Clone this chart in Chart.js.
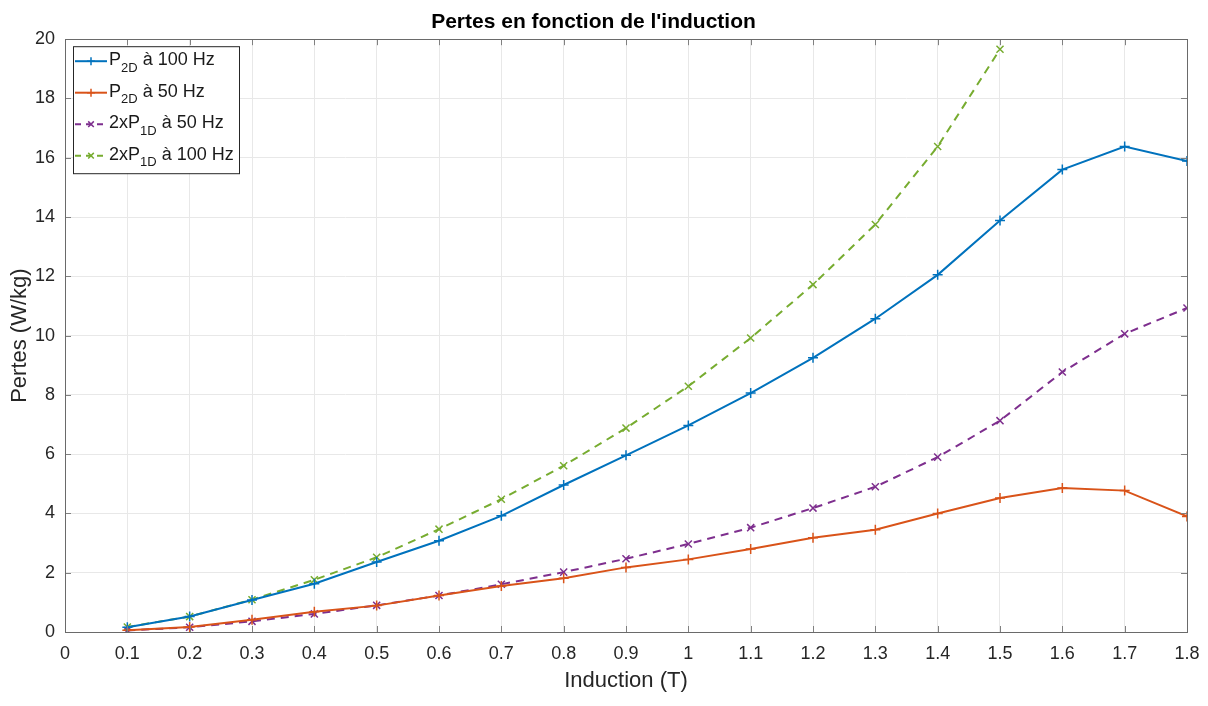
<!DOCTYPE html>
<html>
<head>
<meta charset="utf-8">
<script src="https://cdn.jsdelivr.net/npm/chart.js@4/dist/chart.umd.min.js"></script>
<style>
  html, body { margin: 0; padding: 0; background: #fff; }
  #wrap { width: 1208px; height: 706px; }
</style>
</head>
<body>
<div id="wrap"><canvas id="chart-pertes"></canvas></div>
<script>
// Données
const inductions = [0.1, 0.2, 0.3, 0.4, 0.5, 0.6, 0.7, 0.8, 0.9, 1.0, 1.1, 1.2, 1.3, 1.4, 1.5, 1.6, 1.7, 1.8];
const p2d100 = [0.16, 0.52, 1.08, 1.63, 2.36, 3.08, 3.92, 4.96, 5.96, 6.97, 8.06, 9.25, 10.57, 12.05, 13.88, 15.6, 16.38, 15.89];
const p2d50 = [0.06, 0.17, 0.41, 0.68, 0.89, 1.23, 1.55, 1.81, 2.18, 2.45, 2.8, 3.18, 3.45, 4.0, 4.52, 4.86, 4.77, 3.9];
const p1d50x2 = [0.05, 0.16, 0.36, 0.61, 0.9, 1.23, 1.61, 2.02, 2.47, 2.97, 3.52, 4.18, 4.9, 5.9, 7.13, 8.77, 10.06, 10.93];
const p1d100x2 = [0.17, 0.52, 1.09, 1.76, 2.52, 3.47, 4.48, 5.61, 6.88, 8.29, 9.92, 11.72, 13.75, 16.38, 19.66];

const seriesNames = [
    { base: 'P', sub: '2D', rest: ' à 100 Hz' },
    { base: 'P', sub: '2D', rest: ' à 50 Hz' },
    { base: '2xP', sub: '1D', rest: ' à 50 Hz' },
    { base: '2xP', sub: '1D', rest: ' à 100 Hz' }
];
const colors = ['#0072BD', '#D95319', '#7E2F8E', '#77AC30'];

const toPts = (vals) => vals.map((v, i) => ({ x: inductions[i], y: v }));

const FONT = '"Liberation Sans", Arial, sans-serif';

// cadre + graduations vers l'intérieur (style MATLAB)
const boxPlugin = {
    id: 'boxPlugin',
    afterDatasetsDraw(chart) {
        const { ctx, chartArea: a, scales } = chart;
        ctx.save();
        ctx.strokeStyle = '#808080';
        ctx.lineWidth = 1;
        ctx.beginPath();
        scales.x.ticks.forEach(t => {
            const px = Math.round(scales.x.getPixelForValue(t.value)) + 0.5;
            ctx.moveTo(px, a.bottom); ctx.lineTo(px, a.bottom - 6);
            ctx.moveTo(px, a.top); ctx.lineTo(px, a.top + 6);
        });
        scales.y.ticks.forEach(t => {
            const py = Math.round(scales.y.getPixelForValue(t.value)) + 0.5;
            ctx.moveTo(a.left, py); ctx.lineTo(a.left + 6, py);
            ctx.moveTo(a.right, py); ctx.lineTo(a.right - 6, py);
        });
        ctx.stroke();
        ctx.strokeStyle = '#6a6a6a';
        ctx.strokeRect(Math.round(a.left) + 0.5, Math.round(a.top) + 0.5,
            Math.round(a.right - a.left), Math.round(a.bottom - a.top));
        ctx.restore();
    }
};

// légende avec indices
const legendPlugin = {
    id: 'subLegend',
    afterDraw(chart) {
        const { ctx, chartArea: a } = chart;
        const x0 = a.left + 8, y0 = a.top + 7, w = 166, h = 127;
        ctx.save();
        ctx.fillStyle = '#fff';
        ctx.fillRect(x0, y0, w, h);
        ctx.strokeStyle = '#262626';
        ctx.lineWidth = 1;
        ctx.strokeRect(x0 + 0.5, y0 + 0.5, w, h);
        seriesNames.forEach((s, i) => {
            const ds = chart.data.datasets[i];
            const cy = y0 + 15 + i * 31.5;
            ctx.strokeStyle = colors[i];
            ctx.lineWidth = 2;
            ctx.setLineDash(ds.borderDash && ds.borderDash.length ? [6, 5] : []);
            ctx.beginPath();
            ctx.moveTo(x0 + 2, cy); ctx.lineTo(x0 + 34, cy);
            ctx.stroke();
            ctx.setLineDash([]);
            ctx.lineWidth = 1.5;
            const mx = x0 + 18, r = 4;
            ctx.beginPath();
            if (ds.pointStyle === 'cross') {
                ctx.moveTo(mx - r, cy); ctx.lineTo(mx + r, cy);
                ctx.moveTo(mx, cy - r); ctx.lineTo(mx, cy + r);
            } else {
                ctx.moveTo(mx - r * 0.7, cy - r * 0.7); ctx.lineTo(mx + r * 0.7, cy + r * 0.7);
                ctx.moveTo(mx - r * 0.7, cy + r * 0.7); ctx.lineTo(mx + r * 0.7, cy - r * 0.7);
            }
            ctx.stroke();
            ctx.fillStyle = '#1a1a1a';
            ctx.textBaseline = 'middle';
            let tx = x0 + 36;
            ctx.font = '18px ' + FONT;
            ctx.fillText(s.base, tx, cy - 1);
            tx += ctx.measureText(s.base).width;
            ctx.font = '13px ' + FONT;
            ctx.fillText(s.sub, tx, cy + 7);
            tx += ctx.measureText(s.sub).width;
            ctx.font = '18px ' + FONT;
            ctx.fillText(s.rest, tx, cy - 1);
        });
        ctx.restore();
    }
};

function makeDataset(label, vals, i, style, dashed) {
    return {
        label: label,
        data: toPts(vals),
        borderColor: colors[i],
        backgroundColor: colors[i],
        borderWidth: 2,
        borderDash: dashed ? [8, 6] : [],
        pointStyle: style,
        pointRadius: 5,
        pointBorderWidth: 1.5,
        pointHoverRadius: 5,
        tension: 0
    };
}

new Chart(document.getElementById('chart-pertes').getContext('2d'), {
    type: 'line',
    data: {
        datasets: [
            makeDataset('P2D à 100 Hz', p2d100, 0, 'cross', false),
            makeDataset('P2D à 50 Hz', p2d50, 1, 'cross', false),
            makeDataset('2xP1D à 50 Hz', p1d50x2, 2, 'crossRot', true),
            makeDataset('2xP1D à 100 Hz', p1d100x2, 3, 'crossRot', true)
        ]
    },
    options: {
        responsive: true,
        maintainAspectRatio: false,
        animation: false,
        layout: { padding: { left: 0, right: 21, top: 0, bottom: 0 } },
        plugins: {
            legend: { display: false },
            tooltip: { enabled: false },
            title: {
                display: true,
                text: "Pertes en fonction de l'induction",
                color: '#000',
                font: { family: FONT, size: 21, weight: 'bold' },
                padding: { top: 10, bottom: 4 }
            }
        },
        scales: {
            x: {
                type: 'linear',
                min: 0, max: 1.8,
                afterFit: (s) => { s.height = 74; s.paddingRight = 0; s.paddingLeft = 0; },
                ticks: {
                    stepSize: 0.1,
                    color: '#262626',
                    padding: 11,
                    maxRotation: 0,
                    autoSkip: false,
                    font: { family: FONT, size: 18 },
                    callback: (v) => String(Number(v.toFixed(1)))
                },
                grid: { color: '#e8e8e8', drawTicks: false },
                border: { display: false },
                title: {
                    display: true,
                    text: 'Induction (T)',
                    color: '#262626',
                    font: { family: FONT, size: 22 },
                    padding: { top: 4, bottom: 12 }
                }
            },
            y: {
                min: 0, max: 20,
                afterFit: (s) => { s.width = 65; },
                ticks: {
                    stepSize: 2,
                    color: '#262626',
                    padding: 10,
                    font: { family: FONT, size: 18 }
                },
                grid: { color: '#e8e8e8', drawTicks: false },
                border: { display: false },
                title: {
                    display: true,
                    text: 'Pertes (W/kg)',
                    color: '#262626',
                    font: { family: FONT, size: 22 },
                    padding: { top: 7, bottom: 0 }
                }
            }
        }
    },
    plugins: [boxPlugin, legendPlugin]
});
</script>
</body>
</html>
